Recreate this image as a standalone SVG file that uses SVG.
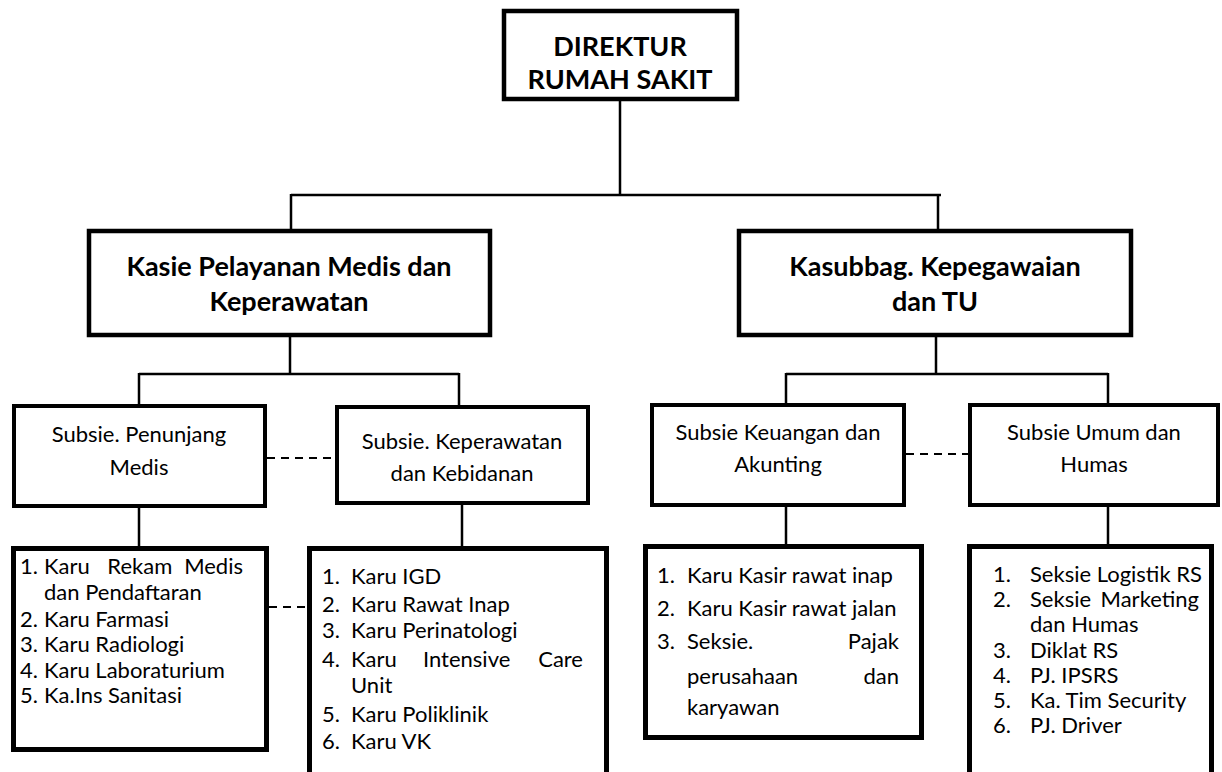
<svg xmlns="http://www.w3.org/2000/svg" width="1222" height="772" viewBox="0 0 1222 772">
<style>
.box{fill:#fff;stroke:#000;stroke-width:4.5}
.sbox{fill:#fff;stroke:#000;stroke-width:4}
.lbox{fill:#fff;stroke:#000;stroke-width:5}
.ln{fill:none;stroke:#000;stroke-width:2.5}
.dash{fill:none;stroke:#000;stroke-width:2;stroke-dasharray:8 6}
text{font-family:Lato,"Liberation Sans",sans-serif;fill:#000}
.b{font-weight:bold;font-size:27px;text-anchor:middle}
.s{font-size:22px;text-anchor:middle}
.l{font-size:22px}
.e{text-anchor:end}
</style>
<rect width="1222" height="772" fill="#fff"/>
<g id="connectors">
<path class="ln" d="M620,101V195M291,195H941M291,194V229M938,194V229"/>
<path class="ln" d="M290,337V374M139,374H459M139,373V404M459,373V405"/>
<path class="ln" d="M936,337V374M786,374H1108M786,373V403M1108,373V403"/>
<path class="ln" d="M139,508V546M462,505V546M786,507V544M1108,507V544"/>
<path class="dash" d="M267,458H335M906,454H968M269,607H307"/>
</g>
<g id="direktur">
<rect class="box" x="504" y="11" width="233" height="88"/>
<text class="b" x="620" y="56">DIREKTUR</text>
<text class="b" x="620" y="89">RUMAH SAKIT</text>
</g>
<g id="kasie">
<rect class="box" x="89" y="231" width="401" height="104"/>
<text class="b" x="289" y="276">Kasie Pelayanan Medis dan</text>
<text class="b" x="289" y="311">Keperawatan</text>
</g>
<g id="kasubbag">
<rect class="box" x="739" y="231" width="392" height="104"/>
<text class="b" x="935" y="276">Kasubbag. Kepegawaian</text>
<text class="b" x="935" y="311">dan TU</text>
</g>
<g id="sub-penunjang">
<rect class="sbox" x="14" y="406" width="251" height="100"/>
<text class="s" x="139" y="442">Subsie. Penunjang</text>
<text class="s" x="139" y="475">Medis</text>
</g>
<g id="sub-keperawatan">
<rect class="sbox" x="337" y="407" width="251" height="96"/>
<text class="s" x="462" y="449">Subsie. Keperawatan</text>
<text class="s" x="462" y="481">dan Kebidanan</text>
</g>
<g id="sub-keuangan">
<rect class="sbox" x="652" y="405" width="252" height="100"/>
<text class="s" x="778" y="440">Subsie Keuangan dan</text>
<text class="s" x="778" y="472">Akunting</text>
</g>
<g id="sub-umum">
<rect class="sbox" x="970" y="405" width="248" height="100"/>
<text class="s" x="1094" y="440">Subsie Umum dan</text>
<text class="s" x="1094" y="472">Humas</text>
</g>
<g id="list-penunjang">
<rect class="lbox" x="13.5" y="548.5" width="253" height="201"/>
<text class="l" x="20" y="574">1.</text><text class="l" x="44" y="574" word-spacing="12">Karu Rekam</text><text class="l e" x="243" y="574">Medis</text>
<text class="l" x="44" y="600">dan Pendaftaran</text>
<text class="l" x="20" y="627">2.</text><text class="l" x="44" y="627">Karu Farmasi</text>
<text class="l" x="20" y="652">3.</text><text class="l" x="44" y="652">Karu Radiologi</text>
<text class="l" x="20" y="678">4.</text><text class="l" x="44" y="678">Karu Laboraturium</text>
<text class="l" x="20" y="703">5.</text><text class="l" x="44" y="703">Ka.Ins Sanitasi</text>
</g>
<g id="list-keperawatan">
<rect class="lbox" x="309.5" y="548.5" width="297" height="240"/>
<text class="l" x="322" y="584">1.</text><text class="l" x="351" y="584">Karu IGD</text>
<text class="l" x="322" y="612">2.</text><text class="l" x="351" y="612">Karu Rawat Inap</text>
<text class="l" x="322" y="638">3.</text><text class="l" x="351" y="638">Karu Perinatologi</text>
<text class="l" x="322" y="667">4.</text><text class="l" x="351" y="667">Karu</text><text class="l" x="423" y="667">Intensive</text><text class="l e" x="583" y="667">Care</text>
<text class="l" x="351" y="693">Unit</text>
<text class="l" x="322" y="722">5.</text><text class="l" x="351" y="722">Karu Poliklinik</text>
<text class="l" x="322" y="749">6.</text><text class="l" x="351" y="749">Karu VK</text>
</g>
<g id="list-keuangan">
<rect class="lbox" x="645.5" y="546.5" width="276" height="191"/>
<text class="l" x="657" y="583">1.</text><text class="l" x="687" y="583">Karu Kasir rawat inap</text>
<text class="l" x="657" y="616">2.</text><text class="l" x="687" y="616">Karu Kasir rawat jalan</text>
<text class="l" x="657" y="649">3.</text><text class="l" x="687" y="649">Seksie.</text><text class="l e" x="899" y="649">Pajak</text>
<text class="l" x="687" y="684">perusahaan</text><text class="l e" x="899" y="684">dan</text>
<text class="l" x="687" y="715">karyawan</text>
</g>
<g id="list-umum">
<rect class="lbox" x="969.5" y="546.5" width="242" height="240"/>
<text class="l" x="993" y="582">1.</text><text class="l" x="1030" y="582">Seksie Logistik RS</text>
<text class="l" x="993" y="607">2.</text><text class="l" x="1030" y="607">Seksie</text><text class="l e" x="1199" y="607">Marketing</text>
<text class="l" x="1030" y="632">dan Humas</text>
<text class="l" x="993" y="658">3.</text><text class="l" x="1030" y="658">Diklat RS</text>
<text class="l" x="993" y="683">4.</text><text class="l" x="1030" y="683">PJ. IPSRS</text>
<text class="l" x="993" y="708">5.</text><text class="l" x="1030" y="708">Ka. Tim Security</text>
<text class="l" x="993" y="733">6.</text><text class="l" x="1030" y="733">PJ. Driver</text>
</g>
</svg>
